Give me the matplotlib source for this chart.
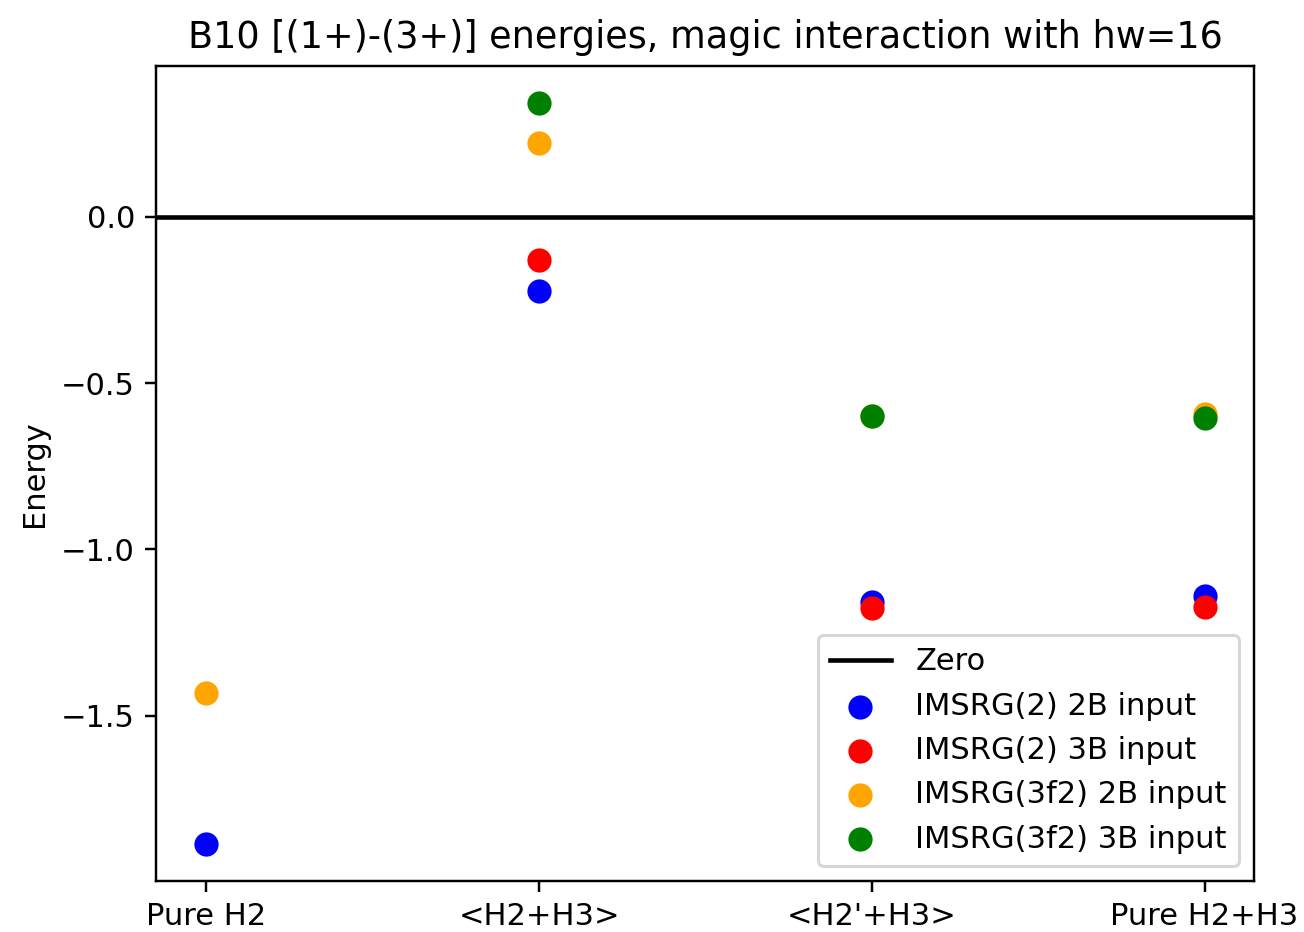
import numpy as np
import matplotlib
matplotlib.use("Agg")
import matplotlib.pyplot as plt

# 横轴类别
categories = ["Pure H2", "<H2+H3>", "<H2'+H3>", "Pure H2+H3"]

# 各方法的能量差 (1+)-(3+)，缺失的点用 nan
imsrg2_2b = [-1.886, -0.222, -1.157, -1.140]
imsrg2_3b = [np.nan, -0.129, -1.175, -1.172]
imsrg3f2_2b = [-1.433, 0.222, -0.598, -0.594]
imsrg3f2_3b = [np.nan, 0.342, -0.600, -0.606]


def plt_energies():
    dpi = 220
    fig, ax = plt.subplots(figsize=(1304 / dpi, 932 / dpi), dpi=dpi)
    fig.subplots_adjust(left=0.120, right=0.962, top=0.929, bottom=0.0547)

    x = np.arange(len(categories))
    ax.axhline(0, color="black", label="Zero")
    ax.scatter(x, imsrg2_2b, s=48, color="blue", label="IMSRG(2) 2B input")
    ax.scatter(x, imsrg2_3b, s=48, color="red", label="IMSRG(2) 3B input")
    ax.scatter(x, imsrg3f2_2b, s=48, color="orange", label="IMSRG(3f2) 2B input")
    ax.scatter(x, imsrg3f2_3b, s=48, color="green", label="IMSRG(3f2) 3B input")

    ax.set_xticks(x)
    ax.set_xticklabels(categories)
    ax.set_ylabel("Energy")
    ax.set_title("B10 [(1+)-(3+)] energies, magic interaction with hw=16")
    ax.legend(loc="lower right")

    fig.savefig("out.png", dpi=dpi)


if __name__ == "__main__":
    plt_energies()
